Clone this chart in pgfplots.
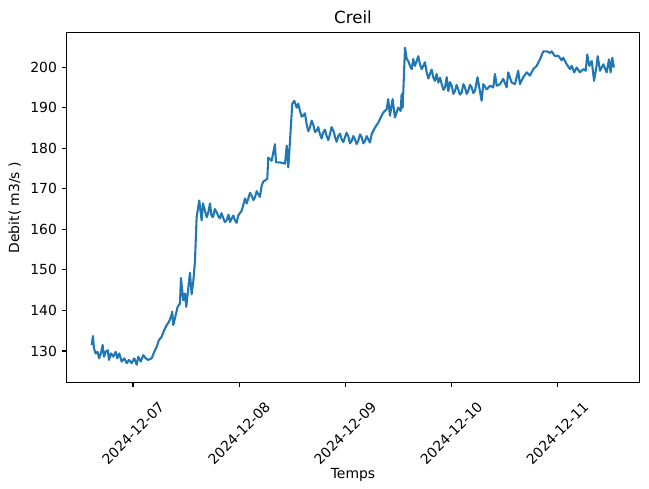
\documentclass[border=0pt]{standalone}
\usepackage{pgfplots}
\pgfplotsset{compat=1.18}
\usepackage{fontspec}
\setmainfont{DejaVu Sans}
\usetikzlibrary{calc}
\definecolor{mplblue}{HTML}{1F77B4}
\begin{document}
\begin{tikzpicture}
\begin{axis}[
  scale only axis,
  width=412.3pt, height=252pt,
  xmin=-0.625, xmax=4.772,
  ymin=122.2, ymax=208.5,
  xtick={0,1,2,3,4},
  xticklabels={2024-12-07,2024-12-08,2024-12-09,2024-12-10,2024-12-11},
  ytick={130,140,150,160,170,180,190,200},
  xtick pos=left, ytick pos=left,
  tick align=outside,
  major tick length=3.5pt,
  every tick/.style={black, line width=0.8pt},
  axis line style={line width=0.8pt},
  /pgf/number format/assume math mode=true,
  tick label style={font=\fontsize{10}{12}\selectfont},
  xticklabel style={yshift=-33pt, rotate=45, anchor=center},
  title={Creil},
  title style={font=\fontsize{12}{14}\selectfont, yshift=-3pt},
  xlabel={Temps},
  ylabel={Debit( m3/s )},
  label style={font=\fontsize{10}{12}\selectfont},
  every axis x label/.style={at={(axis description cs:0.5,0)}, anchor=center, yshift=-66.5pt},
]
\addplot[color=mplblue, line width=1.5pt, line join=round] coordinates {
(-0.389,131.5) (-0.377,133.7) (-0.368,130.7) (-0.352,129.4) (-0.333,129.8) (-0.320,128.2)
(-0.302,129.4) (-0.286,131.5) (-0.273,128.6) (-0.257,129.8) (-0.238,130.2) (-0.226,127.8)
(-0.207,129.4) (-0.186,128.6) (-0.163,129.8) (-0.148,128.2) (-0.129,129.4) (-0.107,127.4)
(-0.082,128.2) (-0.059,127.0) (-0.038,127.8) (-0.012,127.0) (0.012,128.2) (0.035,126.6)
(0.050,128.6) (0.073,127.4) (0.097,129.0) (0.120,128.2) (0.144,127.8) (0.176,128.2)
(0.201,129.8) (0.223,131.0) (0.245,132.7) (0.270,133.5) (0.295,135.2) (0.318,136.4)
(0.339,137.2) (0.358,138.4) (0.370,139.7) (0.380,136.4) (0.402,138.8) (0.421,140.9)
(0.443,141.7) (0.452,148.0) (0.474,142.5) (0.490,144.2) (0.502,140.9) (0.521,145.4)
(0.537,149.3) (0.553,144.0) (0.568,147.0) (0.584,152.0) (0.600,163.0) (0.625,167.1)
(0.647,162.2) (0.660,166.4) (0.678,164.6) (0.695,163.0) (0.710,164.2) (0.726,166.4)
(0.740,163.4) (0.754,163.0) (0.772,165.0) (0.789,164.2) (0.805,163.2) (0.820,162.7)
(0.834,164.0) (0.848,163.0) (0.866,161.8) (0.883,162.2) (0.900,163.6) (0.915,161.8)
(0.930,162.7) (0.946,163.4) (0.961,162.2) (0.977,161.6) (0.992,163.4)
(1.024,164.6) (1.040,166.0) (1.056,167.6) (1.072,166.4) (1.087,167.6) (1.103,169.0)
(1.119,168.3) (1.135,167.2) (1.150,167.9) (1.166,169.4) (1.181,168.7) (1.197,168.0)
(1.213,170.8) (1.229,171.8) (1.244,172.0) (1.266,172.5) (1.275,177.7) (1.307,176.9) (1.338,181.0)
(1.348,176.5) (1.385,176.5) (1.433,176.2) (1.449,180.6) (1.464,175.3) (1.480,181.8)
(1.501,190.9) (1.520,191.7) (1.543,190.0) (1.558,191.0) (1.574,189.2) (1.590,187.8)
(1.605,188.0) (1.621,188.6) (1.637,185.9) (1.652,184.2) (1.668,185.1) (1.684,186.8)
(1.699,185.9) (1.715,184.0) (1.731,184.3) (1.746,185.2) (1.762,183.5) (1.778,182.4)
(1.793,183.9) (1.809,184.6) (1.825,183.0) (1.841,182.0) (1.857,183.5) (1.872,185.2)
(1.888,184.3) (1.896,183.8) (1.904,182.7) (1.920,181.6) (1.935,183.0) (1.951,183.6)
(1.967,182.2) (1.982,181.5) (1.998,182.7) (2.013,183.8) (2.029,183.0) (2.045,181.2)
(2.061,181.8) (2.076,183.0) (2.092,182.2) (2.108,181.0) (2.123,181.8) (2.140,183.4)
(2.156,182.7) (2.171,181.2) (2.187,181.8) (2.203,183.0) (2.218,182.2) (2.234,181.4)
(2.250,183.5) (2.281,185.1) (2.312,186.3) (2.328,187.2) (2.359,188.8)
(2.391,189.6) (2.406,192.1) (2.422,188.0) (2.447,192.1) (2.469,187.6) (2.500,190.0)
(2.523,189.2) (2.532,193.3) (2.542,190.0) (2.564,204.8) (2.580,202.0) (2.595,201.5)
(2.611,200.3) (2.627,199.5) (2.642,202.0) (2.658,200.3) (2.674,201.5) (2.689,202.7)
(2.705,200.7) (2.721,199.5) (2.736,200.3) (2.752,201.2) (2.768,198.7) (2.784,197.2)
(2.799,198.3) (2.815,199.4) (2.830,197.5) (2.846,196.6) (2.862,198.3) (2.878,196.2)
(2.894,197.4) (2.910,195.8) (2.926,194.4) (2.941,195.0) (2.957,197.5) (2.972,194.1)
(2.988,196.3) (3.004,195.4) (3.020,193.4) (3.035,194.1) (3.050,195.6) (3.066,194.5)
(3.082,193.2) (3.098,193.7) (3.114,195.8) (3.129,195.0) (3.145,193.4) (3.160,194.1)
(3.176,195.6) (3.192,195.0) (3.208,193.6) (3.223,194.1) (3.247,197.5) (3.270,194.1) (3.286,191.7) (3.302,195.8)
(3.334,194.5) (3.365,195.4) (3.396,195.0) (3.412,198.3) (3.428,195.4) (3.459,195.8)
(3.490,197.1) (3.522,195.0) (3.537,198.7) (3.569,196.2) (3.600,195.8) (3.631,199.1)
(3.647,195.8) (3.678,197.5) (3.711,198.7) (3.742,197.9) (3.773,199.5) (3.805,200.3)
(3.836,201.9) (3.867,203.9) (3.899,203.9) (3.930,203.5) (3.946,203.9) (3.977,202.7)
(4.009,202.8) (4.040,201.7) (4.055,202.3) (4.088,200.7) (4.119,199.5) (4.135,200.3)
(4.159,198.7) (4.182,199.9) (4.213,198.7) (4.244,199.5) (4.267,199.1) (4.282,203.1)
(4.301,200.3) (4.324,201.5) (4.346,196.6) (4.367,199.9) (4.380,202.7) (4.402,199.1)
(4.433,200.7) (4.465,198.7) (4.486,201.9) (4.502,198.7) (4.517,202.3) (4.533,199.9)
};
\end{axis}
\pgfresetboundingbox
\path ($(current axis.south west)+(-48pt,-76.3pt)$) rectangle ($(current axis.north east)+(7pt,23.5pt)$);
\end{tikzpicture}
\end{document}
